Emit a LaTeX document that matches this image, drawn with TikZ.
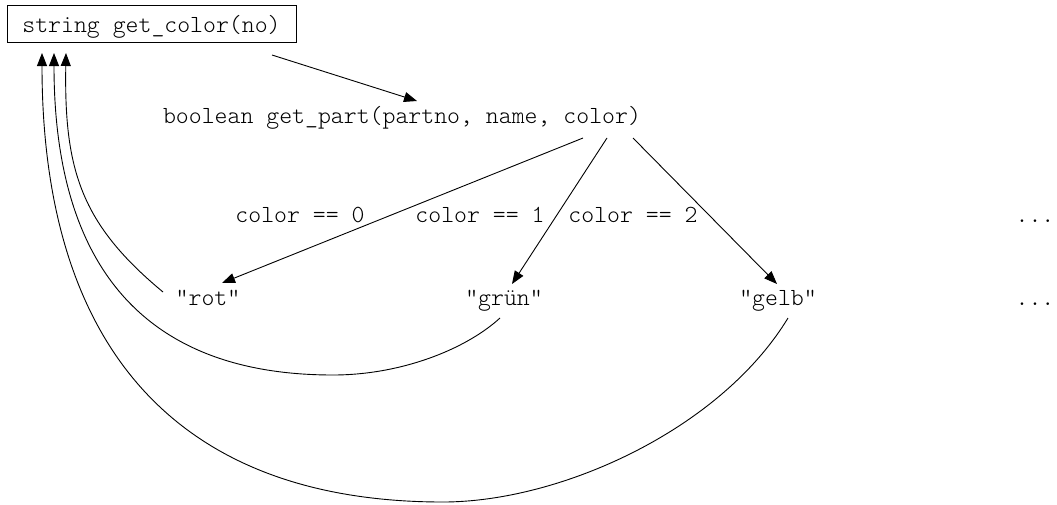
\documentclass[tikz,border=0pt]{standalone}
\usepackage{fontspec}
\setmonofont{Latin Modern Mono Light}
\usetikzlibrary{arrows.meta}
\begin{document}
\begin{tikzpicture}[x=1pt,y=-1pt,
  code/.style={font=\ttfamily\fontsize{24.6}{28}\selectfont, inner sep=0pt},
  edge/.style={line width=0.9pt, -{Triangle[length=13pt,width=10pt]}}]
\useasboundingbox (0,0) rectangle (1057,504);

% function nodes
\node[code, draw, line width=0.9pt, minimum width=289pt, minimum height=37pt,
      text height=17pt, text depth=0pt] (box) at (151.5,23.5) {string get\_color(no)};
\node[code, anchor=base] (call) at (402,123) {boolean get\_part(partno, name, color)};

% branch labels
\node[code, anchor=base] (lab0) at (300,222) {color == 0};
\node[code, anchor=base] (lab1) at (480,222) {color == 1};
\node[code, anchor=base] (lab2) at (633,222) {color == 2};
\node[code, anchor=base] (dots1) at (1035,222) {...};

% return values
\node[code, anchor=base] (rot) at (208,305) {"rot"};
\node[code, anchor=base] (gruen) at (504,305) {"grün"};
\node[code, anchor=base] (gelb) at (778,305) {"gelb"};
\node[code, anchor=base] (dots2) at (1035,305) {...};

% connector ends
\coordinate (box-out) at (272,55);
\coordinate (call-in) at (417,101);
\coordinate (call-out0) at (583,138);
\coordinate (call-out1) at (607,138);
\coordinate (call-out2) at (633,138);
\coordinate (rot-in) at (222,283);
\coordinate (gruen-in) at (512,284);
\coordinate (gelb-in) at (777,284);
\coordinate (rot-out) at (163,292);
\coordinate (gruen-out) at (500,318);
\coordinate (gelb-out) at (788,318);
\coordinate (box-in1) at (42,53);
\coordinate (box-in2) at (54,53);
\coordinate (box-in3) at (66,53);

% call and branches
\draw[edge] (box-out) -- (call-in);
\draw[edge] (call-out0) -- (rot-in);
\draw[edge] (call-out1) -- (gruen-in);
\draw[edge] (call-out2) -- (gelb-in);

% returns back to the caller
\draw[edge] (rot-out) .. controls (81,224) and (64,170) .. (box-in3);
\draw[edge] (gruen-out) .. controls (465,350) and (400,375) .. (333,375)
            .. controls (133,375) and (54,253) .. (box-in2);
\draw[edge] (gelb-out) .. controls (720,430) and (560,502) .. (443,502)
            .. controls (173,502) and (42,343) .. (box-in1);
\end{tikzpicture}
\end{document}
